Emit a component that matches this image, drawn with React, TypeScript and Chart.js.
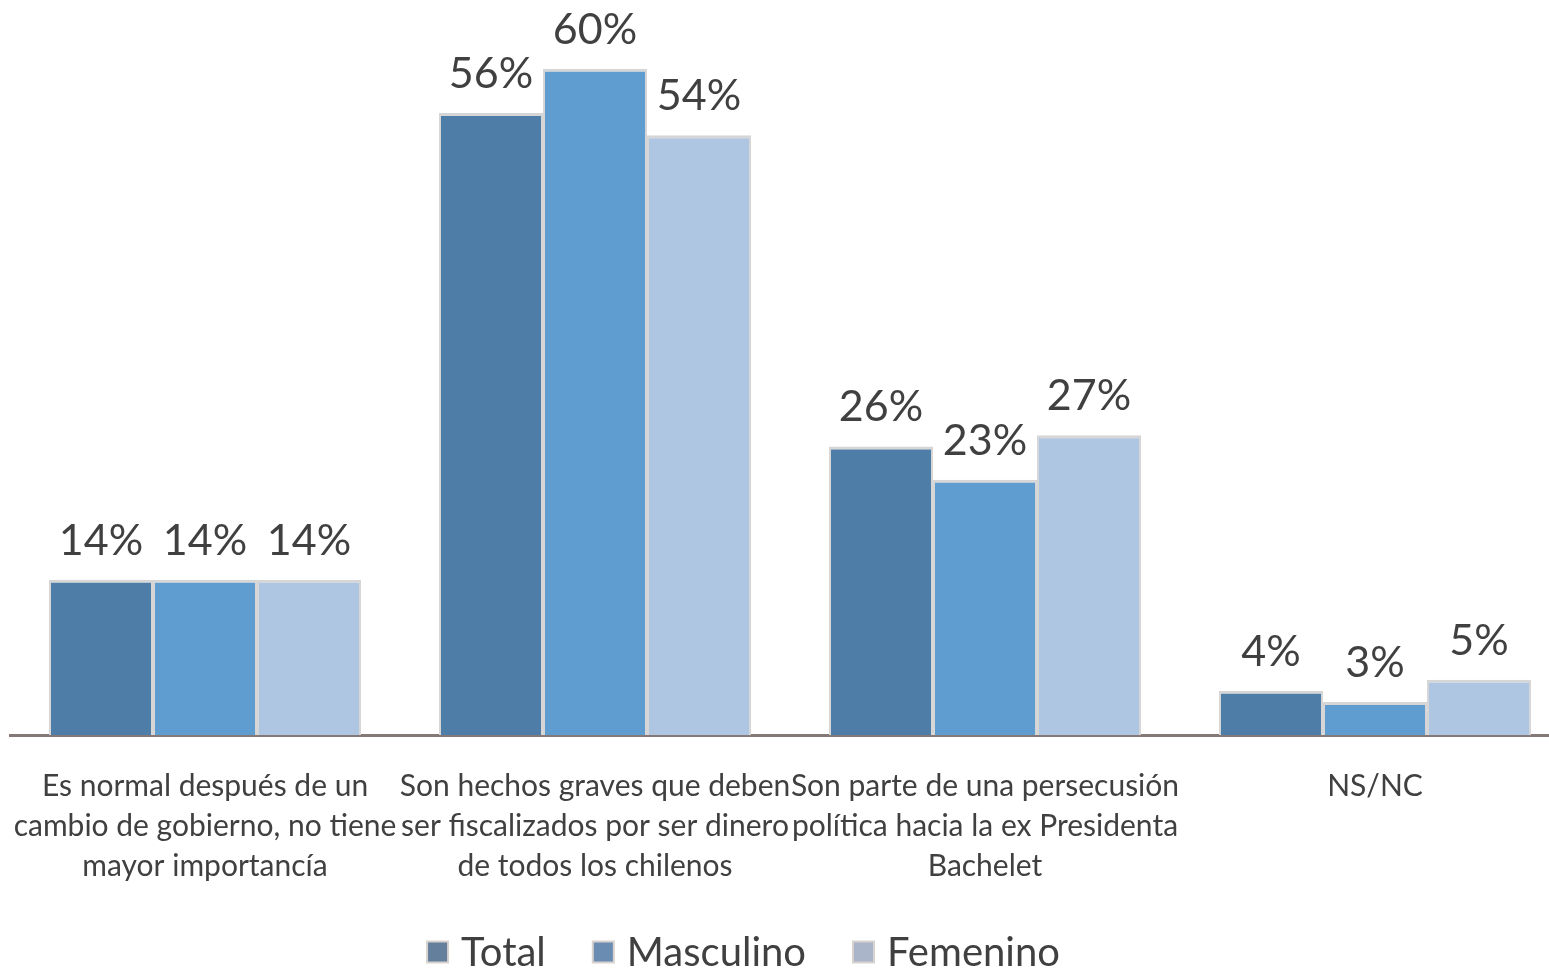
import React, { useEffect, useRef } from "react";
import { Chart, registerables } from "chart.js";

Chart.register(...registerables);

const categories: string[][] = [
  ["Es normal después de un", "cambio de gobierno, no tiene", "mayor importancía"],
  ["Son hechos graves que deben", "ser fiscalizados por ser dinero", "de todos los chilenos"],
  ["Son parte de una persecusión", "política hacia la ex Presidenta", "Bachelet"],
  ["NS/NC"],
];
const seriesNames = ["Total", "Masculino", "Femenino"];
const totalValues = [14, 56, 26, 4];
const masculinoValues = [14, 60, 23, 3];
const femeninoValues = [14, 54, 27, 5];
const barColors = ["#4e7ea8", "#5f9cd0", "#afc6e2"];
const legendColors = ["#637f9c", "#6a8cb2", "#aab5ca"];

const FONT = "Lato, 'Open Sans', sans-serif";

const valueLabels = {
  id: "valueLabels",
  afterDatasetsDraw(chart: any) {
    const ctx = chart.ctx;
    ctx.save();
    ctx.font = `43px ${FONT}`;
    ctx.fillStyle = "#404040";
    ctx.textAlign = "center";
    ctx.textBaseline = "alphabetic";
    chart.data.datasets.forEach((ds: any, i: number) => {
      const meta = chart.getDatasetMeta(i);
      meta.data.forEach((bar: any, j: number) => {
        ctx.fillText(`${ds.data[j]}%`, bar.x, bar.y - 25);
      });
    });
    ctx.restore();
  },
};

const bottomLegend = {
  id: "bottomLegend",
  afterDraw(chart: any) {
    const ctx = chart.ctx;
    ctx.save();
    ctx.font = `40px ${FONT}`;
    ctx.textBaseline = "middle";
    ctx.textAlign = "left";
    const box = 23;
    const gapText = 12;
    const gapItem = 46;
    const widths = seriesNames.map((n) => box + gapText + ctx.measureText(n).width);
    const total = widths.reduce((a, b) => a + b, 0) + gapItem * (widths.length - 1);
    const cx = 743;
    const cy = 952;
    let x = cx - total / 2;
    seriesNames.forEach((n, i) => {
      ctx.fillStyle = "#d8d2cf";
      ctx.fillRect(x, cy - box / 2, box, box);
      ctx.fillStyle = legendColors[i];
      ctx.fillRect(x + 2, cy - box / 2 + 2, box - 4, box - 4);
      ctx.fillStyle = "#404040";
      ctx.fillText(n, x + box + gapText, cy + 1);
      x += widths[i] + gapItem;
    });
    ctx.restore();
  },
};

export default function App() {
  const ref = useRef<HTMLCanvasElement>(null);
  useEffect(() => {
    if (!ref.current) return;
    const values = [totalValues, masculinoValues, femeninoValues];
    const chart = new Chart(ref.current, {
      type: "bar",
      data: {
        labels: categories,
        datasets: seriesNames.map((name, i) => ({
          label: name,
          data: values[i],
          backgroundColor: barColors[i],
          borderColor: "#d6d6d6",
          borderWidth: { top: 3, left: 2, right: 2, bottom: 0 },
          borderSkipped: false,
          categoryPercentage: 0.8,
          barPercentage: 1,
        })),
      },
      options: {
        animation: false,
        responsive: true,
        maintainAspectRatio: false,
        layout: { padding: { top: 2, left: 10, right: 0, bottom: 51 } },
        scales: {
          x: {
            grid: { display: false, drawTicks: false },
            border: { display: true, color: "#857977", width: 3 },
            ticks: {
              color: "#404040",
              font: { family: FONT, size: 30, lineHeight: 1.33 },
              padding: 31,
              maxRotation: 0,
              minRotation: 0,
              autoSkip: false,
            },
            afterFit: (scale: any) => {
              scale.paddingLeft = 0;
              scale.paddingRight = 0;
            },
          },
          y: {
            display: false,
            min: 0,
            max: 66,
          },
        },
        plugins: {
          tooltip: { enabled: false },
          legend: { display: false },
        },
      },
      plugins: [valueLabels, bottomLegend],
    });
    return () => chart.destroy();
  }, []);
  return (
    <div style={{ position: "fixed", left: 0, top: 0, width: 1549, height: 968, overflow: "hidden", background: "#fff" }}>
      <div style={{ position: "absolute", left: 0, top: 0, width: 1570, height: 968 }}>
        <canvas ref={ref} />
      </div>
    </div>
  );
}
